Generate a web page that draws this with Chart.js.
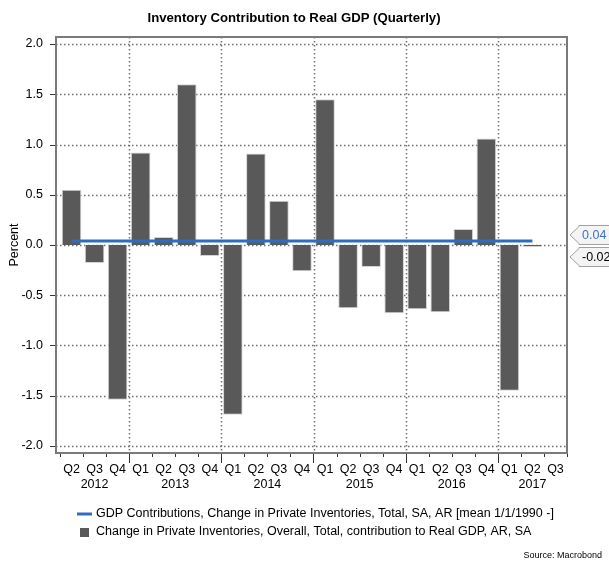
<!DOCTYPE html>
<html>
<head>
<meta charset="utf-8">
<script src="https://cdn.jsdelivr.net/npm/chart.js@4.4.1/dist/chart.umd.min.js"></script>
<style>
  html, body { margin: 0; padding: 0; background: #fff; }
  #wrap { position: relative; width: 609px; height: 562px; }
</style>
</head>
<body>
<div id="wrap"><canvas id="invChart" width="609" height="562"></canvas></div>
<script>
// quarters Q2 2012 .. Q3 2017
const quarters = ["Q2","Q3","Q4","Q1","Q2","Q3","Q4","Q1","Q2","Q3","Q4","Q1","Q2","Q3","Q4","Q1","Q2","Q3","Q4","Q1","Q2","Q3"];
const years = ["2012","2012","2012","2013","2013","2013","2013","2014","2014","2014","2014","2015","2015","2015","2015","2016","2016","2016","2016","2017","2017","2017"];
const inventoryContrib = [0.55,-0.18,-1.54,0.92,0.08,1.60,-0.11,-1.69,0.91,0.44,-0.26,1.45,-0.63,-0.22,-0.68,-0.64,-0.67,0.16,1.06,-1.45,-0.02,null];
const meanLine = [0.04,0.04,0.04,0.04,0.04,0.04,0.04,0.04,0.04,0.04,0.04,0.04,0.04,0.04,0.04,0.04,0.04,0.04,0.04,0.04,0.04,null];
const yTicks = [-2.0,-1.5,-1.0,-0.5,0.0,0.5,1.0,1.5,2.0];
const lastValues = [
  { text: "0.04", value: 0.04, color: "#3b73c6", shift: -6 },
  { text: "-0.02", value: -0.02, color: "#000000", shift: 10 }
];
const TITLE = "Inventory Contribution to Real GDP (Quarterly)";

const COLORS = {
  line: "#2f6cc0",
  bar: "#595959",
  barEdge: "#d4d4d4",
  grid: "#6e6e6e",
  frame: "#7a7a7a",
  text: "#000000"
};
const FONT = "'Liberation Sans', Arial, sans-serif";

const decorPlugin = {
  id: "decor",
  beforeDatasetsDraw(chart) {
    const { ctx, chartArea: a, scales: { x, y } } = chart;
    const frameLeft = a.left - 4;
    ctx.save();
    ctx.strokeStyle = COLORS.grid;
    ctx.lineWidth = 1.5;
    ctx.setLineDash([1.5, 2.5]);
    // horizontal dotted grid
    yTicks.forEach(v => {
      const py = Math.round(y.getPixelForValue(v)) + 0.5;
      ctx.beginPath();
      ctx.moveTo(frameLeft, py);
      ctx.lineTo(a.right, py);
      ctx.stroke();
    });
    // vertical dotted grid at year starts
    const step = x.getPixelForValue(1) - x.getPixelForValue(0);
    quarters.forEach((q, i) => {
      if (q === "Q1") {
        const px = Math.round(x.getPixelForValue(i) - step / 2) + 0.5;
        ctx.beginPath();
        ctx.moveTo(px, a.top);
        ctx.lineTo(px, a.bottom);
        ctx.stroke();
      }
    });
    ctx.restore();
  },
  afterDraw(chart) {
    const { ctx, chartArea: a, scales: { x, y } } = chart;
    const frameLeft = a.left - 4;
    ctx.save();
    // title
    ctx.fillStyle = COLORS.text;
    ctx.font = "bold 13.2px " + FONT;
    ctx.textAlign = "center";
    ctx.textBaseline = "middle";
    ctx.fillText(TITLE, 294, 18);

    // frame
    ctx.strokeStyle = COLORS.frame;
    ctx.lineWidth = 2;
    ctx.strokeRect(frameLeft, a.top, a.right - frameLeft, a.bottom - a.top);

    // y tick marks
    ctx.strokeStyle = "#333";
    ctx.lineWidth = 1;
    yTicks.forEach(v => {
      const py = Math.round(y.getPixelForValue(v)) + 0.5;
      ctx.beginPath();
      ctx.moveTo(frameLeft - 6, py);
      ctx.lineTo(frameLeft - 1, py);
      ctx.stroke();
    });

    // x tick marks (minor every quarter, major at year start)
    const step = x.getPixelForValue(1) - x.getPixelForValue(0);
    for (let i = 0; i <= quarters.length; i++) {
      const px = Math.round(x.getPixelForValue(0) + (i - 0.5) * step) + 0.5;
      const major = quarters[i] === "Q1";
      ctx.beginPath();
      ctx.moveTo(px, a.bottom + 1);
      ctx.lineTo(px, a.bottom + (major ? 10 : 4));
      ctx.stroke();
    }

    // year labels centred under their quarters
    ctx.font = "12.5px " + FONT;
    const groups = {};
    years.forEach((yr, i) => {
      if (!groups[yr]) groups[yr] = [i, i];
      groups[yr][1] = i;
    });
    Object.keys(groups).forEach(yr => {
      const [s, e] = groups[yr];
      const cx = (x.getPixelForValue(s) + x.getPixelForValue(e)) / 2;
      ctx.fillText(yr, cx, a.bottom + 32);
    });

    // y axis title
    ctx.save();
    ctx.translate(15, (a.top + a.bottom) / 2);
    ctx.rotate(-Math.PI / 2);
    ctx.fillText("Percent", 0, 0);
    ctx.restore();

    // last value callouts
    lastValues.forEach(lv => {
      const tipY = y.getPixelForValue(lv.value) + lv.shift;
      const tipX = a.right + 3;
      const bx = tipX + 9, h = 19, top = tipY - h / 2;
      ctx.beginPath();
      ctx.moveTo(tipX, tipY);
      ctx.lineTo(bx, top + 1);
      ctx.lineTo(bx, top);
      ctx.lineTo(620, top);
      ctx.lineTo(620, top + h);
      ctx.lineTo(bx, top + h);
      ctx.lineTo(bx, top + h - 1);
      ctx.closePath();
      ctx.fillStyle = "#f4f4f4";
      ctx.fill();
      ctx.strokeStyle = "#a0a0a0";
      ctx.lineWidth = 1;
      ctx.stroke();
      ctx.fillStyle = lv.color;
      ctx.textAlign = "left";
      ctx.font = "12.5px " + FONT;
      ctx.fillText(lv.text, bx + 3, tipY + 0.5);
    });

    // legend
    const ds = chart.data.datasets;
    ctx.textAlign = "left";
    ctx.font = "12.5px " + FONT;
    ctx.fillStyle = COLORS.text;
    ctx.strokeStyle = COLORS.line;
    ctx.lineWidth = 3;
    ctx.beginPath();
    ctx.moveTo(77, 514);
    ctx.lineTo(92, 514);
    ctx.stroke();
    ctx.fillText(ds[0].label, 96, 514);
    ctx.fillStyle = COLORS.bar;
    ctx.fillRect(80, 528, 9, 9);
    ctx.fillStyle = COLORS.text;
    ctx.fillText(ds[1].label, 96, 532);

    // source
    ctx.font = "9px " + FONT;
    ctx.textAlign = "right";
    ctx.fillText("Source: Macrobond", 602, 556);
    ctx.restore();
  }
};

const ctx = document.getElementById("invChart").getContext("2d");
// eslint-disable-next-line no-undef
new Chart(ctx, {
  data: {
    labels: quarters,
    datasets: [
      {
        type: "line",
        label: "GDP Contributions, Change in Private Inventories, Total, SA, AR [mean 1/1/1990 -]",
        data: meanLine,
        borderColor: COLORS.line,
        borderWidth: 3,
        pointRadius: 0,
        fill: false,
        order: 0
      },
      {
        type: "bar",
        label: "Change in Private Inventories, Overall, Total, contribution to Real GDP, AR, SA",
        data: inventoryContrib,
        backgroundColor: COLORS.bar,
        borderColor: COLORS.barEdge,
        borderWidth: 1,
        categoryPercentage: 1,
        barPercentage: 0.85,
        order: 1
      }
    ]
  },
  plugins: [decorPlugin],
  options: {
    responsive: false,
    animation: false,
    devicePixelRatio: 1,
    layout: { padding: { left: 0, right: 42, top: 37, bottom: 0 } },
    plugins: {
      legend: { display: false },
      tooltip: { enabled: false },
      title: { display: false }
    },
    scales: {
      x: {
        offset: true,
        grid: { display: false, drawTicks: false },
        border: { display: false },
        ticks: {
          color: COLORS.text,
          font: { family: FONT, size: 12.5 },
          padding: 9,
          maxRotation: 0,
          autoSkip: false
        },
        afterFit: s => { s.height = 109; }
      },
      y: {
        min: -2.07,
        max: 2.07,
        grid: { display: false, drawTicks: false },
        border: { display: false },
        afterBuildTicks: s => { s.ticks = yTicks.map(v => ({ value: v })); },
        ticks: {
          color: COLORS.text,
          font: { family: FONT, size: 12.5 },
          padding: 17,
          callback: v => Number(v).toFixed(1)
        },
        afterFit: s => { s.width = 60; }
      }
    }
  }
});
</script>
</body>
</html>
